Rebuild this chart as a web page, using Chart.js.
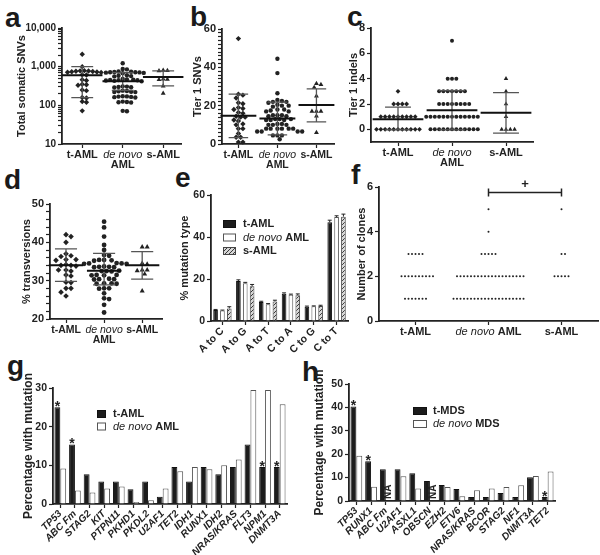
<!DOCTYPE html>
<html>
<head>
<meta charset="utf-8">
<script src="https://cdn.jsdelivr.net/npm/chart.js@4.4.1/dist/chart.umd.min.js"></script>
<style>
  html, body { margin: 0; padding: 0; background: #fff; }
  body { position: relative; width: 600px; height: 555px; overflow: hidden; font-family: "Liberation Sans", Arial, sans-serif; }
  canvas { position: absolute; }
  .tag { position: absolute; font-weight: bold; font-size: 28px; line-height: 28px; color: #1a1a1a; }
</style>
</head>
<body>
<div class="tag" style="left:5px;top:4px">a</div>
<div class="tag" style="left:190px;top:3px">b</div>
<div class="tag" style="left:347px;top:3px">c</div>
<div class="tag" style="left:4px;top:166px">d</div>
<div class="tag" style="left:175px;top:164px">e</div>
<div class="tag" style="left:351px;top:161px">f</div>
<div class="tag" style="left:7px;top:352px">g</div>
<div class="tag" style="left:302px;top:358px">h</div>

<canvas id="snvChart"></canvas>
<canvas id="tier1Chart"></canvas>
<canvas id="indelChart"></canvas>
<canvas id="transChart"></canvas>
<canvas id="typeChart"></canvas>
<canvas id="cloneChart"></canvas>
<canvas id="amlChart"></canvas>
<canvas id="mdsChart"></canvas>

<script>
// ---------- data ----------
var groups = ['t-AML', 'de novo AML', 's-AML'];

// a) total somatic SNVs (log axis)
var snvTaml = [2100, 1000, 790, 780, 770, 760, 750, 740, 730, 720, 710, 620, 610, 460, 440, 350, 340, 330, 250, 240, 160, 155, 125, 120, 72];
var snvDenovo = [1230, 870, 850, 750, 740, 730, 720, 715, 710, 700, 690, 680, 600, 580, 570, 560, 480, 470, 460, 455, 450, 445, 440, 430, 420,
                 310, 305, 300, 295, 290, 240, 235, 230, 225, 222, 220, 172, 170, 168, 165, 163, 160, 125, 122, 120, 118, 72, 70];
var snvSaml = [800, 790, 780, 480, 470, 460, 315, 205];
var snvMean = [600, 420, 540];
var snvLow = [158, 245, 320];
var snvHigh = [1000, 700, 780];
var snvTicks = [10, 100, 1000, 10000];
var snvTickLabels = ['10', '100', '1,000', '10,000'];

// b) tier 1 SNVs
var tier1Taml = [55, 26, 25.5, 24, 21.5, 21, 19, 18.5, 18, 16.5, 16, 14.5, 14, 14, 12.5, 12, 10.5, 10, 8, 8, 5.5, 3.5, 3.5, 1, 1];
var tier1Denovo = [44.5, 37, 26.5, 23, 22.5, 22, 22, 21.5, 20.5, 20, 20, 19.5, 18, 18, 17.5, 17, 17, 15, 15, 15, 14.5, 14.5,
                   13, 13, 13, 12.5, 12.5, 12.5, 10.5, 10.5, 10, 10, 10, 8, 8, 8, 8, 8, 8, 6.5, 6.5, 6.5, 6.5, 4.5, 4.5, 4.5, 2.5];
var tier1Saml = [31.5, 31, 29.5, 25, 17, 17, 17, 14.5, 6];
var tier1Mean = [14.7, 13.3, 20.3];
var tier1Low = [3.3, 4.8, 11.5];
var tier1High = [26, 21.8, 28.8];
var tier1Ticks = [0, 20, 40, 60];

// c) tier 1 indels
var indelTaml = [0, 0, 0, 0, 0, 0, 0, 0, 0, 0, 0, 1, 1, 1, 1, 1, 1, 1, 1, 1, 2, 2, 2, 2, 3];
var indelDenovo = [0, 0, 0, 0, 0, 0, 0, 0, 0, 0, 0, 0, 1, 1, 1, 1, 1, 1, 1, 1, 1, 1, 1, 1, 1,
                   2, 2, 2, 2, 2, 2, 2, 2, 3, 3, 3, 3, 3, 3, 3, 4, 4, 4, 7];
var indelSaml = [0, 0, 0, 0, 1, 2, 3, 4];
var indelMean = [0.8, 1.5, 1.3];
var indelLow = [-0.05, -0.05, -0.3];
var indelHigh = [1.75, 3.05, 2.9];
var indelTicks = [0, 2, 4, 6, 8];

// d) % transversions
var transTaml = [42, 41.5, 40, 37, 36.5, 36.3, 35.5, 35.5, 35.3, 34.2, 34, 34, 33.8, 32.8, 32.8, 32.5, 31.5, 31.2, 29.6, 29.5, 28, 28, 27, 26];
var transDenovo = [45.4, 43.9, 41.5, 39.3, 38, 36.7, 36.5, 35.4, 35.4, 35.3, 35.2, 34.6, 34.5, 34.5, 34.4, 34.4, 33.7, 33.6, 33.6, 33.5, 33.5,
                   32.6, 32.5, 32.5, 32.4, 31.5, 31.5, 31.4, 31.4, 30.5, 30.4, 30.4, 30.3, 29.3, 29.3, 29.2, 29.2, 28, 28, 27.9, 26.7, 25.4, 25.2, 23.7, 21.7];
var transSaml = [38.8, 38.8, 34.5, 34.3, 32.8, 32.8, 32.6, 31.7, 27.3];
var transMean = [34, 32.6, 34];
var transLow = [29.8, 28.9, 30.4];
var transHigh = [38.3, 37.1, 37.6];
var transTicks = [20, 30, 40, 50];

// e) % mutation type
var mutTypes = ['A to C', 'A to G', 'A to T', 'C to A', 'C to G', 'C to T'];
var typeTaml = [5.2, 19, 9, 13, 6.8, 47];
var typeDenovo = [5, 18, 8, 12.5, 7, 49.5];
var typeSaml = [6, 16.5, 9.3, 12.3, 7.1, 49.7];
var typeErrTaml = [0.3, 0.6, 0.4, 0.4, 0.3, 1.0];
var typeErrDenovo = [0.2, 0.4, 0.3, 0.3, 0.2, 0.6];
var typeErrSaml = [0.8, 0.9, 0.6, 0.6, 0.4, 1.2];
var typeTicks = [0, 20, 40, 60];

// f) number of clones
var clonesTaml = [1, 1, 1, 1, 1, 1, 1, 2, 2, 2, 2, 2, 2, 2, 2, 2, 2, 3, 3, 3, 3, 3];
var clonesDenovo = [1, 1, 1, 1, 1, 1, 1, 1, 1, 1, 1, 1, 1, 1, 1, 1, 1, 1, 1, 1, 1,
                    2, 2, 2, 2, 2, 2, 2, 2, 2, 2, 2, 2, 2, 2, 2, 2, 2, 2, 2, 2, 3, 3, 3, 3, 3, 4, 5];
var clonesSaml = [2, 2, 2, 2, 2, 3, 3, 5];
var cloneTicks = [0, 2, 4, 6];
var clonePair = [2, 3, 5.75];   // compared groups and bracket level

// g) t-AML vs de novo AML
var amlGenes = ['TP53', 'ABC Fm', 'STAG2', 'KIT', 'PTPN11', 'PKHD1', 'PKDL2', 'U2AF1', 'TET2', 'IDH1', 'RUNX1', 'IDH2', 'NRAS/KRAS', 'FLT3', 'NPM1', 'DNMT3A'];
var amlTaml = [25, 15.4, 7.7, 5.8, 5.8, 3.8, 5.8, 1.9, 9.6, 5.8, 9.6, 7.7, 9.6, 15.4, 9.6, 9.6];
var amlDenovo = [9.2, 3.5, 3.0, 4.0, 4.5, 0.5, 1.0, 4.0, 8.5, 9.6, 9.0, 10.0, 11.5, 29.5, 29.5, 25.8];
var amlStars = ['TP53', 'ABC Fm', 'NPM1', 'DNMT3A'];
var amlTicks = [0, 10, 20, 30];

// h) t-MDS vs de novo MDS
var mdsGenes = ['TP53', 'RUNX1', 'ABC Fm', 'U2AF1', 'ASXL1', 'OBSCN', 'EZH2', 'ETV6', 'NRAS/KRAS', 'BCOR', 'STAG2', 'NF1', 'DNMT3A', 'TET2'];
var mdsTmds = [40.4, 17, 13.6, 13.6, 11.9, 8.5, 6.8, 5.1, 1.7, 1.7, 3.4, 1.7, 10.2, 1.7];
var mdsDenovo = [19.3, 6.1, null, 10.6, 5.3, null, 6.0, 2.0, 4.6, 5.3, 6.0, 6.7, 10.7, 12.6];
var mdsStars = ['TP53', 'RUNX1', 'TET2'];
var mdsNA = ['ABC Fm', 'OBSCN'];
var mdsTicks = [0, 10, 20, 30, 40, 50];

// ---------- helpers ----------
var INK = '#222';
var FAMILY = '"Liberation Sans", Arial, Helvetica, sans-serif';
Chart.defaults.font.family = FAMILY;
Chart.defaults.color = INK;

// text with "de novo" set in italics
function richText(ctx, text, x, y, size, align) {
    var parts = text.split(/(de novo)/).filter(function (p) { return p.length; });
    var fonts = parts.map(function (p) { return (p === 'de novo' ? 'italic ' : 'bold ') + size + 'px ' + FAMILY; });
    var widths = parts.map(function (p, i) { ctx.font = fonts[i]; return ctx.measureText(p).width; });
    var total = widths.reduce(function (a, b) { return a + b; }, 0);
    var cx = align === 'center' ? x - total / 2 : x;
    ctx.textAlign = 'left';
    parts.forEach(function (p, i) { ctx.font = fonts[i]; ctx.fillText(p, cx, y); cx += widths[i]; });
}

// spread points sideways so they don't overlap (simple beeswarm)
function swarm(vals, cat, tf, ppu, ppc, d) {
    var placed = [], out = [];
    vals.slice().sort(function (a, b) { return b - a; }).forEach(function (v) {
        var py = tf(v) * ppu, off = 0;
        for (var k = 0; k < 400; k++) {
            off = (k % 2 ? 1 : -1) * Math.ceil(k / 2) * d / 2;
            var free = placed.every(function (p) {
                return (p.x - off) * (p.x - off) + (p.y - py) * (p.y - py) >= d * d * 0.95;
            });
            if (free) break;
        }
        placed.push({x: off, y: py});
        out.push({x: cat + off / ppc, y: v});
    });
    return out;
}

function meanPath(mean, w) {
    var pts = [];
    mean.forEach(function (m, k) {
        pts.push({x: k + 1 - w, y: m}, {x: k + 1 + w, y: m}, {x: k + 1, y: null});
    });
    return pts;
}

function sdPath(lo, hi, w) {
    var pts = [];
    lo.forEach(function (l, k) {
        var c = k + 1, h = hi[k];
        pts.push({x: c - w, y: h}, {x: c + w, y: h}, {x: c, y: null},
                 {x: c, y: h}, {x: c, y: l}, {x: c, y: null},
                 {x: c - w, y: l}, {x: c + w, y: l}, {x: c, y: null});
    });
    return pts;
}

function stepTicks(min, max, step) {
    var out = [];
    for (var v = min; v <= max + 1e-9; v += step) out.push(Math.round(v * 100) / 100);
    return out;
}

function logTicks(min, max) {
    var out = [];
    for (var p = min; p < max; p *= 10) {
        for (var m = 1; m < 10; m++) out.push(m * p);
    }
    out.push(max);
    return out;
}

function yAxis(o) {
    return {
        type: o.log ? 'logarithmic' : 'linear',
        min: o.min, max: o.max,
        afterBuildTicks: function (s) { s.ticks = o.all.map(function (v) { return {value: v}; }); },
        ticks: {
            autoSkip: false, padding: 2, color: INK,
            font: {size: o.size || 11, weight: 'bold'},
            callback: function (v) {
                var i = o.major.indexOf(v);
                return i < 0 ? '' : (o.labels ? o.labels[i] : String(v));
            }
        },
        grid: {drawOnChartArea: false, tickLength: 4, tickColor: INK, tickWidth: 1.2},
        border: {color: INK, width: 1.8},
        title: {display: true, text: o.title, padding: 0, color: INK, font: {size: o.tsize || 11, weight: 'bold'}}
    };
}

function build(id, g, config) {
    var cv = document.getElementById(id);
    var pt = g.pt || 10;
    var left = g.l - g.yW, top = g.t - pt;
    var w = g.r + 8 - left, h = g.b + g.xH - top;
    cv.width = w; cv.height = h;
    cv.style.left = left + 'px'; cv.style.top = top + 'px';
    cv.style.width = w + 'px'; cv.style.height = h + 'px';
    var opt = config.options;
    opt.responsive = false;
    opt.animation = false;
    opt.devicePixelRatio = 1;
    opt.layout = {padding: {left: 0, top: pt, right: 8, bottom: 0}};
    opt.scales.y.afterFit = function (s) { s.width = g.yW; };
    opt.scales.x.afterFit = function (s) { s.height = g.xH; };
    opt.plugins = Object.assign({legend: {display: false}, tooltip: {enabled: false}}, opt.plugins || {});
    return new Chart(cv.getContext('2d'), config);
}

// ---------- plugins ----------
var groupLabels = {
    id: 'groupLabels',
    afterDraw: function (chart, args, o) {
        var ctx = chart.ctx, xs = chart.scales.x;
        ctx.save();
        ctx.fillStyle = INK;
        ctx.textBaseline = 'middle';
        o.labels.forEach(function (label, i) {
            var lines = o.wrap ? label.replace('de novo ', 'de novo\n').split('\n') : [label];
            lines.forEach(function (line, j) {
                richText(ctx, line, xs.getPixelForValue(i + 1), xs.top + o.dy + j * o.lh, o.size, 'center');
            });
        });
        ctx.restore();
    }
};

var boxLegend = {
    id: 'boxLegend',
    afterDraw: function (chart, args, o) {
        var ctx = chart.ctx, a = chart.chartArea;
        ctx.save();
        ctx.textBaseline = 'middle';
        chart.data.datasets.forEach(function (ds, i) {
            var x = a.left + o.x, y = a.top + o.y + i * o.gap;
            ctx.fillStyle = ds.backgroundColor;
            ctx.fillRect(x, y - o.bh / 2, o.bw, o.bh);
            ctx.strokeStyle = ds.borderColor;
            ctx.lineWidth = 1;
            ctx.strokeRect(x + 0.5, y - o.bh / 2 + 0.5, o.bw - 1, o.bh - 1);
            ctx.fillStyle = INK;
            richText(ctx, ds.label, x + o.bw + o.tx, y, o.size, 'left');
        });
        ctx.restore();
    }
};

var barMarks = {
    id: 'barMarks',
    afterDatasetsDraw: function (chart, args, o) {
        var ctx = chart.ctx, ys = chart.scales.y, labels = chart.data.labels;
        var bars0 = chart.getDatasetMeta(0).data;
        ctx.save();
        ctx.fillStyle = INK;
        ctx.strokeStyle = INK;
        ctx.lineWidth = 1;
        (o.errors || []).forEach(function (errs, d) {
            var vals = chart.data.datasets[d].data;
            chart.getDatasetMeta(d).data.forEach(function (bar, i) {
                var top = ys.getPixelForValue(vals[i] + errs[i]);
                ctx.beginPath();
                ctx.moveTo(bar.x, bar.y); ctx.lineTo(bar.x, top);
                ctx.moveTo(bar.x - 2, top); ctx.lineTo(bar.x + 2, top);
                ctx.stroke();
            });
        });
        ctx.textAlign = 'center';
        ctx.textBaseline = 'alphabetic';
        ctx.font = 'bold 14px ' + FAMILY;
        (o.stars || []).forEach(function (name) {
            var bar = bars0[labels.indexOf(name)];
            ctx.fillText('*', bar.x, bar.y + 4);
        });
        ctx.font = 'bold 10px ' + FAMILY;
        ctx.textAlign = 'left';
        ctx.textBaseline = 'middle';
        (o.na || []).forEach(function (name) {
            var bar = bars0[labels.indexOf(name)];
            ctx.save();
            ctx.translate(bar.x + bar.width, ys.getPixelForValue(0) - 2);
            ctx.rotate(-Math.PI / 2);
            ctx.fillText('NA', 0, 0);
            ctx.restore();
        });
        ctx.restore();
    }
};

var plusMark = {
    id: 'plusMark',
    afterDraw: function (chart, args, o) {
        var ctx = chart.ctx, xs = chart.scales.x, ys = chart.scales.y;
        ctx.save();
        ctx.fillStyle = INK;
        ctx.font = 'bold 13px ' + FAMILY;
        ctx.textAlign = 'center';
        ctx.textBaseline = 'bottom';
        ctx.fillText('+', xs.getPixelForValue((o.pair[0] + o.pair[1]) / 2), ys.getPixelForValue(o.pair[2]) - 2);
        ctx.restore();
    }
};

// ---------- panels ----------
function dotX(range) {
    return {
        type: 'linear', min: range[0], max: range[1],
        afterBuildTicks: function (s) { s.ticks = [1, 2, 3].map(function (v) { return {value: v}; }); },
        ticks: {display: false},
        grid: {drawOnChartArea: false, tickLength: 4, tickColor: INK, tickWidth: 1.2},
        border: {color: INK, width: 1.8}
    };
}

function dotPanel(id, g, p) {
    var tf = p.log ? Math.log10 : function (v) { return v; };
    var range = p.xRange || [0.5, 3.5];
    var ppu = (g.b - g.t) / (tf(p.y.max) - tf(p.y.min));
    var ppc = (g.r - g.l) / (range[1] - range[0]);
    var datasets = [
        {type: 'line', data: meanPath(p.mean, p.mw), borderColor: '#111', borderWidth: 2, pointRadius: 0, clip: false},
        {type: 'line', data: sdPath(p.lo, p.hi, p.cw), borderColor: '#555', borderWidth: 1.3, pointRadius: 0, clip: false}
    ].concat(p.extra || []);
    p.sets.forEach(function (vals, k) {
        datasets.push({
            label: groups[k],
            data: swarm(vals, k + 1, tf, ppu, ppc, p.d),
            pointStyle: p.shapes[k],
            pointRadius: p.radii[k],
            backgroundColor: INK,
            borderColor: INK,
            borderWidth: 0,
            clip: false
        });
    });
    var plugins = {groupLabels: {labels: groups, wrap: p.wrap, size: p.lsize || 11, dy: 11, lh: 10}};
    if (p.pair) plugins.plusMark = {pair: p.pair};
    return build(id, g, {
        type: 'scatter',
        data: {datasets: datasets},
        options: {scales: {x: dotX(range), y: p.y}, plugins: plugins},
        plugins: [groupLabels].concat(p.pair ? [plusMark] : [])
    });
}

function hatch() {
    var c = document.createElement('canvas');
    c.width = 4; c.height = 4;
    var x = c.getContext('2d');
    x.fillStyle = '#d6d6d6';
    x.fillRect(0, 0, 4, 4);
    x.strokeStyle = '#3a3a3a';
    x.lineWidth = 1;
    x.beginPath();
    x.moveTo(0, 4); x.lineTo(4, 0);
    x.moveTo(-1, 1); x.lineTo(1, -1);
    x.moveTo(3, 5); x.lineTo(5, 3);
    x.stroke();
    return x.createPattern(c, 'repeat');
}

function barPanel(id, g, p) {
    var ds = p.series.map(function (s) {
        return {
            label: s.label, data: s.data,
            backgroundColor: s.fill, borderColor: s.stroke, borderWidth: 1,
            barPercentage: p.barPct, categoryPercentage: p.catPct
        };
    });
    return build(id, g, {
        type: 'bar',
        data: {labels: p.labels, datasets: ds},
        options: {
            scales: {
                x: {
                    type: 'category', offset: true,
                    ticks: {autoSkip: false, minRotation: 45, maxRotation: 45, padding: 0, color: INK, font: p.xfont},
                    grid: {drawOnChartArea: false, offset: false, tickLength: 4, tickColor: INK, tickWidth: 1.2},
                    border: {color: INK, width: 1.8}
                },
                y: p.y
            },
            plugins: {boxLegend: p.legend, barMarks: p.marks}
        },
        plugins: [boxLegend, barMarks]
    });
}

var dark = {fill: '#1c1c1c', stroke: '#111'};
var open = {fill: '#ffffff', stroke: '#555'};
var hatched = {fill: hatch(), stroke: '#444'};

// a
dotPanel('snvChart', {l: 62, t: 28, r: 181, b: 144, yW: 47, xH: 32}, {
    log: true, xRange: [0.5, 3.44],
    y: yAxis({log: true, min: 10, max: 10000, all: logTicks(10, 10000), major: snvTicks, labels: snvTickLabels, size: 10, title: 'Total somatic SNVs'}),
    sets: [snvTaml, snvDenovo, snvSaml], mean: snvMean, lo: snvLow, hi: snvHigh,
    mw: 0.5, cw: 0.27, d: 4.2, wrap: true,
    shapes: ['rectRot', 'circle', 'triangle'], radii: [2.7, 2.2, 2.8]
});

// b
dotPanel('tier1Chart', {l: 222, t: 29, r: 334, b: 144, yW: 31, xH: 32}, {
    xRange: [0.58, 3.45],
    y: yAxis({min: 0, max: 60, all: stepTicks(0, 60, 2), major: tier1Ticks, title: 'Tier 1 SNVs'}),
    sets: [tier1Taml, tier1Denovo, tier1Saml], mean: tier1Mean, lo: tier1Low, hi: tier1High,
    mw: 0.46, cw: 0.25, d: 4.5, wrap: true, lsize: 10.5,
    shapes: ['rectRot', 'circle', 'triangle'], radii: [2.7, 2.2, 2.8]
});

// c
dotPanel('indelChart', {l: 371, t: 28, r: 533, b: 142, yW: 24, xH: 32}, {
    y: yAxis({min: -1, max: 8, all: indelTicks, major: indelTicks, title: 'Tier 1 indels'}),
    sets: [indelTaml, indelDenovo, indelSaml], mean: indelMean, lo: indelLow, hi: indelHigh,
    mw: 0.47, cw: 0.24, d: 4.3, wrap: true,
    shapes: ['rectRot', 'circle', 'triangle'], radii: [2.4, 2.0, 2.6]
});

// d
dotPanel('transChart', {l: 50, t: 204, r: 162, b: 319, yW: 30, xH: 32}, {
    xRange: [0.58, 3.52],
    y: yAxis({min: 20, max: 50, all: stepTicks(20, 50, 2), major: transTicks, title: '% transversions'}),
    sets: [transTaml, transDenovo, transSaml], mean: transMean, lo: transLow, hi: transHigh,
    mw: 0.45, cw: 0.29, d: 5.0, wrap: true, lsize: 10.5,
    shapes: ['rectRot', 'circle', 'triangle'], radii: [2.8, 2.4, 2.9]
});

// e
barPanel('typeChart', {l: 211, t: 195, r: 348, b: 321, yW: 33, xH: 34}, {
    labels: mutTypes,
    series: [
        {label: 't-AML', data: typeTaml, fill: dark.fill, stroke: dark.stroke},
        {label: 'de novo AML', data: typeDenovo, fill: open.fill, stroke: open.stroke},
        {label: 's-AML', data: typeSaml, fill: hatched.fill, stroke: hatched.stroke}
    ],
    barPct: 0.68, catPct: 0.9,
    xfont: {size: 10.5, weight: 'bold'},
    y: yAxis({min: 0, max: 60, all: typeTicks, major: typeTicks, size: 10.5, title: '% mutation type'}),
    legend: {x: 12, y: 29, gap: 13.5, bw: 13, bh: 8, tx: 7, size: 11},
    marks: {errors: [typeErrTaml, typeErrDenovo, typeErrSaml]}
});

// f
dotPanel('cloneChart', {l: 379, t: 187, r: 598, b: 321, yW: 24, xH: 20}, {
    y: yAxis({min: 0, max: 6, all: cloneTicks, major: cloneTicks, title: 'Number of clones'}),
    sets: [clonesTaml, clonesDenovo, clonesSaml], mean: [], lo: [], hi: [],
    mw: 0, cw: 0, d: 3.5, wrap: false,
    shapes: ['circle', 'circle', 'circle'], radii: [1, 1, 1],
    pair: clonePair,
    extra: [{
        type: 'line', borderColor: INK, borderWidth: 1.5, pointRadius: 0, clip: false,
        data: [
            {x: clonePair[0], y: clonePair[2] - 0.18}, {x: clonePair[0], y: clonePair[2] + 0.18}, {x: clonePair[0], y: null},
            {x: clonePair[0], y: clonePair[2]}, {x: clonePair[1], y: clonePair[2]}, {x: clonePair[1], y: null},
            {x: clonePair[1], y: clonePair[2] - 0.18}, {x: clonePair[1], y: clonePair[2] + 0.18}
        ]
    }]
});

// g
barPanel('amlChart', {l: 53, t: 388, r: 287, b: 504, yW: 32, xH: 51, pt: 24}, {
    labels: amlGenes,
    series: [
        {label: 't-AML', data: amlTaml, fill: dark.fill, stroke: dark.stroke},
        {label: 'de novo AML', data: amlDenovo, fill: open.fill, stroke: open.stroke}
    ],
    barPct: 1.0, catPct: 0.8,
    xfont: {size: 10, weight: 'bold', style: 'italic'},
    y: yAxis({min: 0, max: 30, all: amlTicks, major: amlTicks, size: 10.5, tsize: 12, title: 'Percentage with mutation'}),
    legend: {x: 44, y: 26, gap: 12.5, bw: 9, bh: 8, tx: 7, size: 11},
    marks: {stars: amlStars}
});

// h
barPanel('mdsChart', {l: 349, t: 384, r: 555, b: 501, yW: 37, xH: 54, pt: 24}, {
    labels: mdsGenes,
    series: [
        {label: 't-MDS', data: mdsTmds, fill: dark.fill, stroke: dark.stroke},
        {label: 'de novo MDS', data: mdsDenovo, fill: open.fill, stroke: open.stroke}
    ],
    barPct: 1.0, catPct: 0.8,
    xfont: {size: 10, weight: 'bold', style: 'italic'},
    y: yAxis({min: 0, max: 50, all: mdsTicks, major: mdsTicks, size: 10.5, tsize: 12, title: 'Percentage with mutation'}),
    legend: {x: 64, y: 27, gap: 13, bw: 14, bh: 8, tx: 6, size: 11},
    marks: {stars: mdsStars, na: mdsNA}
});
</script>
</body>
</html>
